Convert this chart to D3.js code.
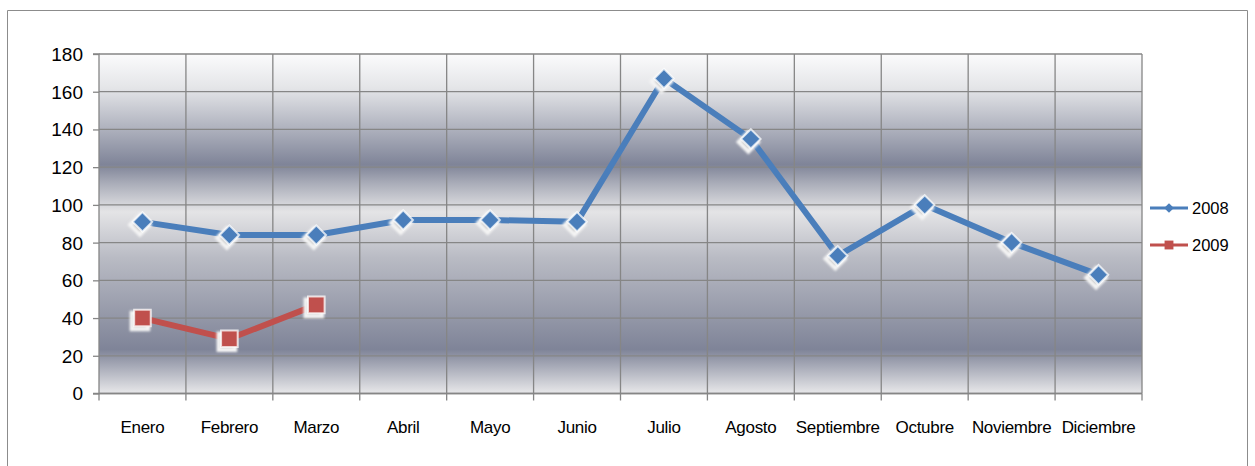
<!DOCTYPE html>
<html><head><meta charset="utf-8">
<script src="https://cdn.jsdelivr.net/npm/d3@7"></script>
<style>
html,body{margin:0;padding:0;background:#fff;}
svg{display:block;font-family:"Liberation Sans",Arial,sans-serif;}
</style></head>
<body><svg id="c" width="1255" height="466"></svg>
<script>
const categories = ["Enero","Febrero","Marzo","Abril","Mayo","Junio","Julio","Agosto","Septiembre","Octubre","Noviembre","Diciembre"];
const values2008 = [91,84,84,92,92,91,167,135,73,100,80,63];
const values2009 = [40,29,47];
const seriesNames = ["2008","2009"];
const yTicks = [0,20,40,60,80,100,120,140,160,180];

const svg = d3.select("#c");
const m = {left:99, right:1142, top:54, bottom:393.5};

svg.append("path").attr("d","M7.5,470 V10.5 H1247.5 V470").attr("fill","none").attr("stroke","#8c8c8c").attr("stroke-width",1);

const x = d3.scaleBand().domain(categories).range([m.left,m.right]).padding(0);
const y = d3.scaleLinear().domain([0,180]).range([m.bottom,m.top]);

const defs = svg.append("defs");
const g = defs.append("linearGradient").attr("id","bg").attr("x1",0).attr("x2",0).attr("y1",0).attr("y2",1);
[[0,"#fbfbfc"],[0.1,"#e4e5e8"],[0.326,"#7f8498"],[0.38,"#a9acb8"],[0.465,"#e4e4e6"],[0.6,"#b9bbc4"],[0.87,"#7f8498"],[1,"#e8e8ea"]]
 .forEach(([o,c])=>g.append("stop").attr("offset",o).attr("stop-color",c));
const blur = defs.append("filter").attr("id","glow").attr("x","-50%").attr("y","-50%").attr("width","200%").attr("height","200%");
blur.append("feGaussianBlur").attr("stdDeviation",0.9);

svg.append("rect").attr("x",m.left).attr("y",m.top).attr("width",m.right-m.left).attr("height",m.bottom-m.top).attr("fill","url(#bg)");

const grid = svg.append("g").attr("stroke","#868686").attr("stroke-width",1.3);
yTicks.forEach(t=>grid.append("line").attr("x1",m.left).attr("x2",m.right).attr("y1",y(t)).attr("y2",y(t)));
categories.forEach((c,i)=>{ if(i>0) grid.append("line").attr("x1",x(c)).attr("x2",x(c)).attr("y1",m.top).attr("y2",m.bottom);});
grid.append("line").attr("x1",m.right).attr("x2",m.right).attr("y1",m.top).attr("y2",m.bottom);

const yAxis = svg.append("g").attr("transform",`translate(${m.left},0)`)
  .call(d3.axisLeft(y).tickValues(yTicks).tickSize(6).tickPadding(16));
yAxis.select(".domain").attr("stroke","#868686").attr("stroke-width",1.3).attr("d",`M-6,${y(0)}H0V${y(180)}H-6`);
yAxis.selectAll(".tick line").attr("stroke","#868686").attr("stroke-width",1.3);
yAxis.selectAll("text").style("font-size","19px").attr("fill","#000").style("font-family","'Liberation Sans', Arial, sans-serif").attr("x",-16).attr("dy","0.34em");

const xAxis = svg.append("g").attr("transform",`translate(0,${m.bottom})`)
  .call(d3.axisBottom(x).tickSize(0).tickPadding(27));
xAxis.select(".domain").attr("stroke","#868686").attr("stroke-width",1.3).attr("d",`M${m.left},0H${m.right}`);
xAxis.selectAll("text").style("font-size","17px").attr("fill","#000").style("font-family","'Liberation Sans', Arial, sans-serif").attr("letter-spacing",-0.3);
const xt = svg.append("g").attr("stroke","#868686").attr("stroke-width",1.3);
categories.concat(["end"]).forEach((c,i)=>{
  const xx = i<categories.length ? x(c) : m.right;
  xt.append("line").attr("x1",xx).attr("x2",xx).attr("y1",m.bottom).attr("y2",m.bottom+7);
});

const cx = c => x(c)+x.bandwidth()/2;
const line = d3.line().x((d,i)=>cx(categories[i])).y(d=>y(d));

function drawSeries(vals,color,shape,sz){
  svg.append("path").datum(vals).attr("d",line).attr("fill","none").attr("stroke",color).attr("stroke-width",6).attr("stroke-linejoin","round");
  const sym = d3.symbol().type(shape).size(sz);
  const gp = svg.append("g");
  vals.forEach((v,i)=>{
    const px=cx(categories[i]), py=y(v);
    gp.append("path").attr("d",sym()).attr("transform",`translate(${px-2.5},${py+3})`).attr("fill","#c4c4c4").attr("stroke","#f4f4f4").attr("stroke-width",4).attr("filter","url(#glow)");
    gp.append("path").attr("d",sym()).attr("transform",`translate(${px},${py})`).attr("fill",color).attr("stroke","#ffffff").attr("stroke-width",2).attr("stroke-opacity",0.75);
  });
}
drawSeries(values2008,"#4a7ebb",d3.symbolDiamond2,240);
drawSeries(values2009,"#c0504d",d3.symbolSquare2,350);

const legend = svg.append("g");
const lc = ["#4a7ebb","#c0504d"], ls=[d3.symbolDiamond2,d3.symbolSquare2], lsz=[60,100];
seriesNames.forEach((n,i)=>{
  const ly = 208 + i*37;
  legend.append("line").attr("x1",1150).attr("x2",1188).attr("y1",ly).attr("y2",ly).attr("stroke",lc[i]).attr("stroke-width",3);
  legend.append("path").attr("d",d3.symbol().type(ls[i]).size(lsz[i])()).attr("transform",`translate(1169,${ly})`).attr("fill",lc[i]);
  legend.append("text").attr("x",1192).attr("y",ly+6).style("font-size","16.5px").text(n);
});
</script></body></html>
